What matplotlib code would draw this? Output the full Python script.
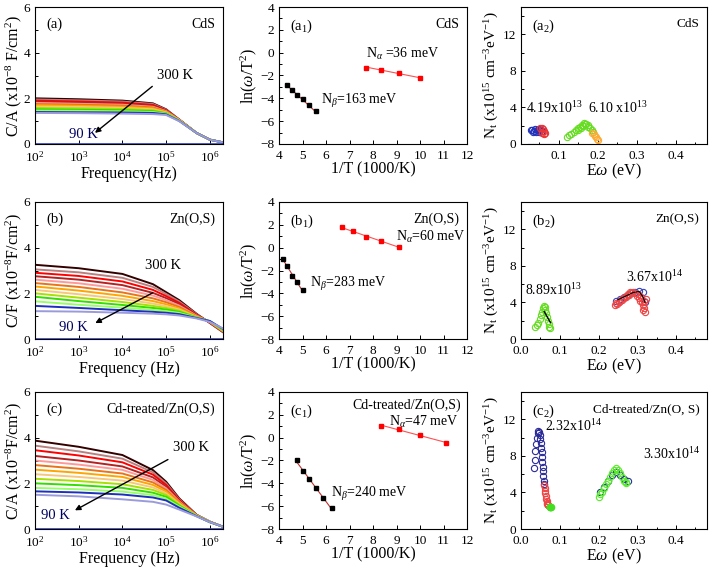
import numpy as np
import matplotlib
matplotlib.use("Agg")
import matplotlib.pyplot as plt
from matplotlib.ticker import MultipleLocator, LogLocator, NullLocator

plt.rcParams['font.family'] = ['Liberation Serif', 'DejaVu Serif']
plt.rcParams['mathtext.fontset'] = 'custom'
plt.rcParams['mathtext.rm'] = 'Liberation Serif'
plt.rcParams['mathtext.it'] = 'Liberation Serif:italic'
plt.rcParams['mathtext.bf'] = 'Liberation Serif:bold'

#---------------------------------- data ----------------------------------#
# frequency grid of the C-f curves (Hz)
FREQ = [1e2, 1e3, 1e4, 5e4, 1e5, 2e5, 5e5, 1e6, 2e6]
TEMPS = [300, 280, 260, 240, 220, 200, 180, 160, 140, 120, 100, 95, 90]
TEMP_COLORS = ['#330000', '#b98080', '#ff0000', '#b22222', '#ff9999', '#e8741a', '#ffa500',
               '#f5c77e', '#a8e000', '#33dd00', '#99ff66', '#1e2fbf', '#9b9bdc']

# (a) CdS, one row per temperature
CF_CDS = [
    [2.00, 1.96, 1.90, 1.78, 1.52, 1.07, 0.48, 0.19, 0.07],
    [1.95, 1.91, 1.86, 1.75, 1.50, 1.07, 0.48, 0.19, 0.07],
    [1.90, 1.86, 1.81, 1.71, 1.48, 1.06, 0.48, 0.19, 0.07],
    [1.85, 1.81, 1.76, 1.67, 1.46, 1.06, 0.48, 0.19, 0.07],
    [1.80, 1.76, 1.72, 1.63, 1.44, 1.05, 0.48, 0.19, 0.07],
    [1.75, 1.72, 1.68, 1.60, 1.42, 1.05, 0.48, 0.19, 0.07],
    [1.70, 1.67, 1.63, 1.56, 1.40, 1.04, 0.48, 0.19, 0.07],
    [1.64, 1.62, 1.58, 1.52, 1.38, 1.04, 0.48, 0.19, 0.07],
    [1.58, 1.56, 1.53, 1.48, 1.36, 1.03, 0.48, 0.19, 0.07],
    [1.52, 1.50, 1.48, 1.44, 1.34, 1.02, 0.48, 0.19, 0.07],
    [1.46, 1.45, 1.43, 1.40, 1.32, 1.02, 0.48, 0.19, 0.07],
    [1.40, 1.39, 1.38, 1.36, 1.30, 1.01, 0.48, 0.19, 0.07],
    [1.36, 1.35, 1.33, 1.31, 1.27, 1.00, 0.48, 0.19, 0.07],
]
# (b) Zn(O,S)
CF_ZNOS = [
    [3.25, 3.10, 2.85, 2.40, 2.05, 1.70, 1.10, 0.70, 0.30],
    [3.05, 2.92, 2.68, 2.28, 1.97, 1.64, 1.08, 0.71, 0.31],
    [2.90, 2.76, 2.52, 2.15, 1.88, 1.58, 1.06, 0.72, 0.32],
    [2.75, 2.60, 2.36, 2.02, 1.79, 1.52, 1.04, 0.73, 0.33],
    [2.60, 2.44, 2.20, 1.90, 1.70, 1.46, 1.02, 0.74, 0.34],
    [2.45, 2.28, 2.04, 1.78, 1.61, 1.40, 1.00, 0.75, 0.35],
    [2.30, 2.12, 1.89, 1.66, 1.52, 1.34, 0.98, 0.76, 0.36],
    [2.15, 1.96, 1.75, 1.55, 1.44, 1.29, 0.96, 0.77, 0.37],
    [2.00, 1.81, 1.62, 1.45, 1.36, 1.24, 0.95, 0.77, 0.38],
    [1.85, 1.66, 1.49, 1.36, 1.29, 1.19, 0.94, 0.78, 0.40],
    [1.65, 1.50, 1.37, 1.27, 1.22, 1.14, 0.93, 0.78, 0.42],
    [1.45, 1.36, 1.26, 1.19, 1.15, 1.09, 0.92, 0.79, 0.44],
    [1.22, 1.20, 1.15, 1.11, 1.08, 1.03, 0.90, 0.75, 0.46],
]
# (c) Cd-treated/Zn(O,S)
CF_CDZNOS = [
    [3.87, 3.60, 3.24, 2.58, 2.07, 1.34, 0.62, 0.32, 0.10],
    [3.65, 3.40, 3.08, 2.48, 2.00, 1.30, 0.61, 0.32, 0.10],
    [3.45, 3.22, 2.92, 2.38, 1.93, 1.27, 0.61, 0.32, 0.10],
    [3.20, 3.00, 2.74, 2.26, 1.85, 1.23, 0.60, 0.32, 0.10],
    [3.00, 2.82, 2.59, 2.15, 1.78, 1.20, 0.60, 0.31, 0.10],
    [2.80, 2.64, 2.43, 2.04, 1.71, 1.17, 0.59, 0.31, 0.10],
    [2.60, 2.46, 2.28, 1.93, 1.64, 1.13, 0.59, 0.31, 0.10],
    [2.40, 2.28, 2.12, 1.82, 1.56, 1.10, 0.58, 0.31, 0.10],
    [2.20, 2.10, 1.96, 1.71, 1.49, 1.06, 0.58, 0.31, 0.10],
    [2.00, 1.92, 1.80, 1.59, 1.41, 1.02, 0.57, 0.30, 0.10],
    [1.80, 1.74, 1.64, 1.48, 1.33, 0.98, 0.57, 0.30, 0.10],
    [1.65, 1.60, 1.51, 1.38, 1.25, 0.93, 0.56, 0.30, 0.10],
    [1.50, 1.43, 1.30, 1.19, 1.07, 0.85, 0.55, 0.30, 0.10],
]

# Arrhenius plots: 1/T (1000/K) and ln(w/T^2)
A1_BETA_X = [4.35, 4.55, 4.76, 5.00, 5.26, 5.56]
A1_BETA_Y = [-2.8, -3.3, -3.75, -4.1, -4.6, -5.15]
A1_ALPHA_X = [7.69, 8.33, 9.09, 10.0]
A1_ALPHA_Y = [-1.3, -1.5, -1.75, -2.25]
B1_BETA_X = [4.17, 4.35, 4.55, 4.76, 5.00]
B1_BETA_Y = [-1.0, -1.6, -2.45, -3.05, -3.7]
B1_ALPHA_X = [6.67, 7.14, 7.69, 8.33, 9.09]
B1_ALPHA_Y = [1.8, 1.45, 0.95, 0.55, 0.1]
C1_BETA_X = [4.76, 5.00, 5.26, 5.56, 5.88, 6.25]
C1_BETA_Y = [-2.0, -2.9, -3.6, -4.4, -5.3, -6.2]
C1_ALPHA_X = [8.33, 9.09, 10.0, 11.11]
C1_ALPHA_Y = [1.05, 0.75, 0.2, -0.45]

# trap density distributions: E (eV) and Nt (1e15 cm-3 eV-1)
A2_BLUE_X = [0.028, 0.032, 0.036, 0.040, 0.044, 0.048, 0.052, 0.056, 0.034, 0.042, 0.050, 0.058]
A2_BLUE_Y = [1.50, 1.55, 1.45, 1.60, 1.50, 1.65, 1.55, 1.45, 1.30, 1.35, 1.30, 1.40]
A2_RED_X = [0.052, 0.056, 0.060, 0.063, 0.064, 0.061, 0.057]
A2_RED_Y = [1.70, 1.75, 1.60, 1.45, 1.25, 1.05, 1.15]
A2_GREEN_X = [0.120, 0.126, 0.132, 0.138, 0.144, 0.150, 0.155, 0.160, 0.165, 0.170, 0.175,
              0.180, 0.184, 0.188, 0.150, 0.156, 0.162, 0.168, 0.174]
A2_GREEN_Y = [0.80, 0.95, 1.10, 1.30, 1.50, 1.70, 1.90, 2.10, 2.30, 2.20, 2.05,
              1.80, 1.55, 1.30, 1.50, 1.75, 2.00, 2.15, 1.90]
A2_ORANGE_X = [0.186, 0.190, 0.193, 0.196, 0.198, 0.200]
A2_ORANGE_Y = [1.20, 1.05, 0.90, 0.75, 0.60, 0.45]

B2_GREEN_X = [0.036, 0.040, 0.044, 0.048, 0.051, 0.054, 0.057, 0.059, 0.061, 0.063, 0.065,
              0.067, 0.069, 0.071, 0.073, 0.075]
B2_GREEN_Y = [1.35, 1.50, 1.80, 2.20, 2.60, 3.00, 3.40, 3.60, 3.45, 3.15, 2.80,
              2.40, 2.00, 1.65, 1.35, 1.20]
B2_BLACK1_X = [0.060, 0.064, 0.068, 0.072, 0.076]
B2_BLACK1_Y = [3.0, 2.7, 2.4, 2.1, 1.8]
B2_BLUE_X = [0.245, 0.255, 0.265, 0.275, 0.285, 0.295, 0.305, 0.315, 0.320]
B2_BLUE_Y = [4.2, 4.4, 4.6, 4.8, 5.0, 5.1, 5.3, 5.2, 4.0]
B2_RED_X = [0.242, 0.248, 0.254, 0.260, 0.266, 0.272, 0.278, 0.284, 0.288,
            0.245, 0.252, 0.258, 0.264, 0.270, 0.276, 0.282,
            0.295, 0.300, 0.305, 0.308, 0.312, 0.315, 0.318, 0.320, 0.316, 0.310, 0.303, 0.318, 0.322]
B2_RED_Y = [3.7, 3.85, 4.05, 4.25, 4.45, 4.65, 4.85, 5.05, 5.2,
            3.9, 4.1, 4.3, 4.5, 4.7, 4.9, 5.1,
            5.0, 4.7, 4.5, 4.2, 4.0, 3.7, 3.4, 3.0, 3.2, 4.6, 4.9, 4.2, 4.4]
B2_BLACK2_X = [0.25, 0.27, 0.29, 0.305, 0.315, 0.32]
B2_BLACK2_Y = [4.3, 4.7, 5.1, 5.2, 4.6, 4.0]

C2_BLUE_X = [0.033, 0.035, 0.037, 0.039, 0.041, 0.043, 0.045, 0.047, 0.049, 0.050, 0.051,
             0.052, 0.053, 0.054, 0.055, 0.056, 0.057, 0.058, 0.059, 0.060]
C2_BLUE_Y = [6.7, 7.6, 8.5, 9.3, 10.0, 10.5, 10.7, 10.6, 10.3, 9.9, 9.4,
             8.9, 8.4, 7.9, 7.3, 6.8, 6.3, 5.8, 5.3, 4.9]
C2_RED_X = [0.060, 0.061, 0.062, 0.063, 0.064, 0.065, 0.066, 0.067, 0.068, 0.069, 0.070]
C2_RED_Y = [4.8, 4.5, 4.2, 3.9, 3.6, 3.3, 3.1, 2.9, 2.75, 2.65, 2.6]
C2_GDOT_X = [0.074, 0.076, 0.078]
C2_GDOT_Y = [2.45, 2.40, 2.40]
C2_GREEN_X = [0.200, 0.205, 0.210, 0.215, 0.220, 0.225, 0.230, 0.235, 0.240, 0.245, 0.250,
              0.255, 0.260, 0.265, 0.270, 0.272]
C2_GREEN_Y = [3.5, 3.8, 4.1, 4.5, 4.9, 5.3, 5.7, 6.1, 6.5, 6.7, 6.5,
              6.1, 5.7, 5.3, 5.1, 5.0]
C2_DARK_X = [0.205, 0.215, 0.225, 0.235, 0.245, 0.255, 0.265, 0.275]
C2_DARK_Y = [4.0, 4.6, 5.3, 5.9, 6.2, 5.9, 5.5, 5.3]

#---------------------------------- layout ----------------------------------#
W, H = 709, 571
fig = plt.figure(figsize=(W / 100, H / 100), dpi=100)
col_left = [35, 279, 521]
col_w = [188, 188, 186]
row_top = [7, 202, 392]
ax_h = 137


def make_ax(r, c):
    ax = fig.add_axes([col_left[c] / W, 1 - (row_top[r] + ax_h) / H, col_w[c] / W, ax_h / H])
    ax.tick_params(which='both', direction='in', labelsize=9.5, width=0.7)
    ax.tick_params(which='major', length=3)
    ax.tick_params(which='minor', length=1.8)
    ax.tick_params(axis='x', pad=4)
    for s in ax.spines.values():
        s.set_linewidth(0.8)
    return ax


def cf_panel(ax, rows, tag, name, ylab, xlab, arrow, t300, t90):
    for row, col in zip(rows, TEMP_COLORS):
        ax.plot(FREQ, row, color=col, lw=1.4)
    ax.plot([FREQ[0], FREQ[-1]], [0.03, 0.03], color='#3344cc', lw=0.6)
    ax.set_xscale('log')
    ax.set_xlim(1e2, 2e6)
    ax.set_ylim(0, 6)
    ax.yaxis.set_major_locator(MultipleLocator(2))
    ax.yaxis.set_minor_locator(MultipleLocator(1))
    ax.xaxis.set_major_locator(LogLocator(base=10, numticks=10))
    ax.xaxis.set_minor_locator(NullLocator())
    ax.tick_params(axis='x', pad=4.5)
    ax.tick_params(axis='y', pad=3.5)
    ax.set_ylabel(ylab, fontsize=11.5, labelpad=0)
    ax.set_xlabel(xlab, fontsize=11.5, labelpad=0.5)
    ax.text(0.06, 0.92, tag, transform=ax.transAxes, fontsize=10.5, va='top')
    ax.text(0.96, 0.92, name, transform=ax.transAxes, fontsize=10, va='top', ha='right')
    ax.annotate('', xy=arrow[1], xytext=arrow[0],
                arrowprops=dict(arrowstyle='-|>', color='black', lw=1.0, mutation_scale=8))
    ax.text(t300[0], t300[1], '300 K', fontsize=10.5, ha='left', va='center')
    ax.text(t90[0], t90[1], '90 K', fontsize=10.5, ha='left', va='center', color='#000060')


def arr_panel(ax, bx, by, axx, ay, tag, name, name_pos, na_text, na_pos, nb_text, nb_pos):
    # linear fits through both sets
    pb = np.polyfit(bx, by, 1)
    pa = np.polyfit(axx, ay, 1)
    ax.plot(bx, np.polyval(pb, bx), color='#c03030', lw=0.8)
    ax.plot(axx, np.polyval(pa, axx), color='#ff5050', lw=0.8)
    ax.plot(bx, by, 's', color='black', ms=3)
    ax.plot(axx, ay, 's', color='red', ms=3)
    ax.set_xlim(4, 12)
    ax.set_ylim(-8, 4)
    ax.xaxis.set_major_locator(MultipleLocator(1))
    ax.yaxis.set_major_locator(MultipleLocator(2))
    ax.yaxis.set_minor_locator(MultipleLocator(1))
    ax.set_ylabel(r'ln($\omega$/T$^2$)', fontsize=11.5, labelpad=1)
    ax.set_xlabel('1/T (1000/K)', fontsize=11.5, labelpad=0)
    ax.text(0.06, 0.92, tag, transform=ax.transAxes, fontsize=10.5, va='top')
    ax.text(name_pos[0], name_pos[1], name, transform=ax.transAxes, fontsize=10, va='top', ha='right')
    ax.text(na_pos[0], na_pos[1], na_text, fontsize=10, ha='left', va='center')
    ax.text(nb_pos[0], nb_pos[1], nb_text, fontsize=10, ha='left', va='center')


def nt_setup(ax, tag, name, xmin):
    ax.set_xlim(xmin, 0.48)
    ax.set_ylim(0, 15)
    ax.xaxis.set_major_locator(MultipleLocator(0.1))
    ax.xaxis.set_minor_locator(MultipleLocator(0.05))
    ax.yaxis.set_major_locator(MultipleLocator(4))
    ax.yaxis.set_minor_locator(MultipleLocator(2))
    ax.set_ylabel(r'N$_\mathrm{t}$ (x10$^{15}$ cm$^{-3}$eV$^{-1}$)', fontsize=11, labelpad=1)
    ax.set_xlabel(r'E$\omega$ (eV)', fontsize=11.5, labelpad=0)
    ax.text(0.06, 0.92, tag, transform=ax.transAxes, fontsize=10.5, va='top')
    ax.text(0.96, 0.92, name, transform=ax.transAxes, fontsize=9.5, va='top', ha='right')


def circles(ax, x, y, col, ms=4.5):
    ax.plot(x, y, 'o', mfc='none', mec=col, ms=ms, mew=0.8)


#---------------------------------- row (a) ----------------------------------#
ax = make_ax(0, 0)
cf_panel(ax, CF_CDS, '(a)', 'CdS', r'C/A (x10$^{-8}$ F/cm$^2$)', 'Frequency(Hz)',
         ((5.4e4, 2.6), (2.1e3, 0.41)), (6.3e4, 3.0), (6e2, 0.4))

ax = make_ax(0, 1)
arr_panel(ax, A1_BETA_X, A1_BETA_Y, A1_ALPHA_X, A1_ALPHA_Y, '(a$_1$)', 'CdS', (0.96, 0.92),
          r'N$_{α}$ =36 meV', (7.7, -0.1), r'N$_{β}$=163 meV', (5.8, -4.2))

ax = make_ax(0, 2)
nt_setup(ax, '(a$_2$)', 'CdS', 0.003)
ax.plot([0.02, 0.09], [0.03, 0.03], color='#3344cc', lw=0.8)
circles(ax, A2_BLUE_X, A2_BLUE_Y, '#2233bb')
circles(ax, A2_RED_X, A2_RED_Y, '#ee3333')
circles(ax, A2_GREEN_X, A2_GREEN_Y, '#66dd22')
circles(ax, A2_ORANGE_X, A2_ORANGE_Y, '#ffaa33')
ax.text(0.017, 3.9, r'4.19x10$^{13}$', fontsize=10, va='center')
ax.text(0.176, 3.9, r'6.10 x10$^{13}$', fontsize=10, va='center')

#---------------------------------- row (b) ----------------------------------#
ax = make_ax(1, 0)
cf_panel(ax, CF_ZNOS, '(b)', 'Zn(O,S)', r'C/F (x10$^{-8}$F/cm$^2$)', 'Frequency (Hz)',
         ((5.6e4, 2.08), (2.1e3, 0.64)), (3.3e4, 3.2), (3.6e2, 0.5))

ax = make_ax(1, 1)
arr_panel(ax, B1_BETA_X, B1_BETA_Y, B1_ALPHA_X, B1_ALPHA_Y, '(b$_1$)', 'Zn(O,S)', (0.96, 0.92),
          r'N$_{α}$=60 meV', (9.0, 0.9), r'N$_{β}$=283 meV', (5.3, -3.2))

ax = make_ax(1, 2)
nt_setup(ax, '(b$_2$)', 'Zn(O,S)', 0.0)
circles(ax, B2_GREEN_X, B2_GREEN_Y, '#66dd22')
ax.plot(B2_BLACK1_X, B2_BLACK1_Y, color='black', lw=1.0)
circles(ax, B2_BLUE_X, B2_BLUE_Y, '#3344bb')
circles(ax, B2_RED_X, B2_RED_Y, '#ee4444')
ax.plot(B2_BLACK2_X, B2_BLACK2_Y, color='black', lw=0.8)
ax.text(0.011, 5.4, r'8.89x10$^{13}$', fontsize=10, va='center')
ax.text(0.272, 6.8, r'3.67x10$^{14}$', fontsize=10, va='center')

#---------------------------------- row (c) ----------------------------------#
ax = make_ax(2, 0)
cf_panel(ax, CF_CDZNOS, '(c)', 'Cd-treated/Zn(O,S)', r'C/A (x10$^{-8}$F/cm$^2$)', 'Frequency (Hz)',
         ((1.25e5, 3.1), (7.2e2, 0.76)), (1.4e5, 3.56), (1.35e2, 0.6))

ax = make_ax(2, 1)
arr_panel(ax, C1_BETA_X, C1_BETA_Y, C1_ALPHA_X, C1_ALPHA_Y, '(c$_1$)', 'Cd-treated/Zn(O,S)', (0.97, 0.95),
          r'N$_{α}$=47 meV', (8.7, 1.35), r'N$_{β}$=240 meV', (6.2, -4.9))

ax = make_ax(2, 2)
nt_setup(ax, '(c$_2$)', 'Cd-treated/Zn(O, S)', 0.0)
circles(ax, C2_BLUE_X, C2_BLUE_Y, '#2a2a99')
circles(ax, C2_RED_X, C2_RED_Y, '#ee4444')
ax.plot(C2_GDOT_X, C2_GDOT_Y, 'o', color='#44dd22', ms=4.5)
circles(ax, C2_DARK_X, C2_DARK_Y, '#223399')
circles(ax, C2_GREEN_X, C2_GREEN_Y, '#55ee22')
ax.text(0.062, 11.3, r'2.32x10$^{14}$', fontsize=10, va='center')
ax.text(0.316, 8.2, r'3.30x10$^{14}$', fontsize=10, va='center')

fig.savefig('out.png', dpi=100)
